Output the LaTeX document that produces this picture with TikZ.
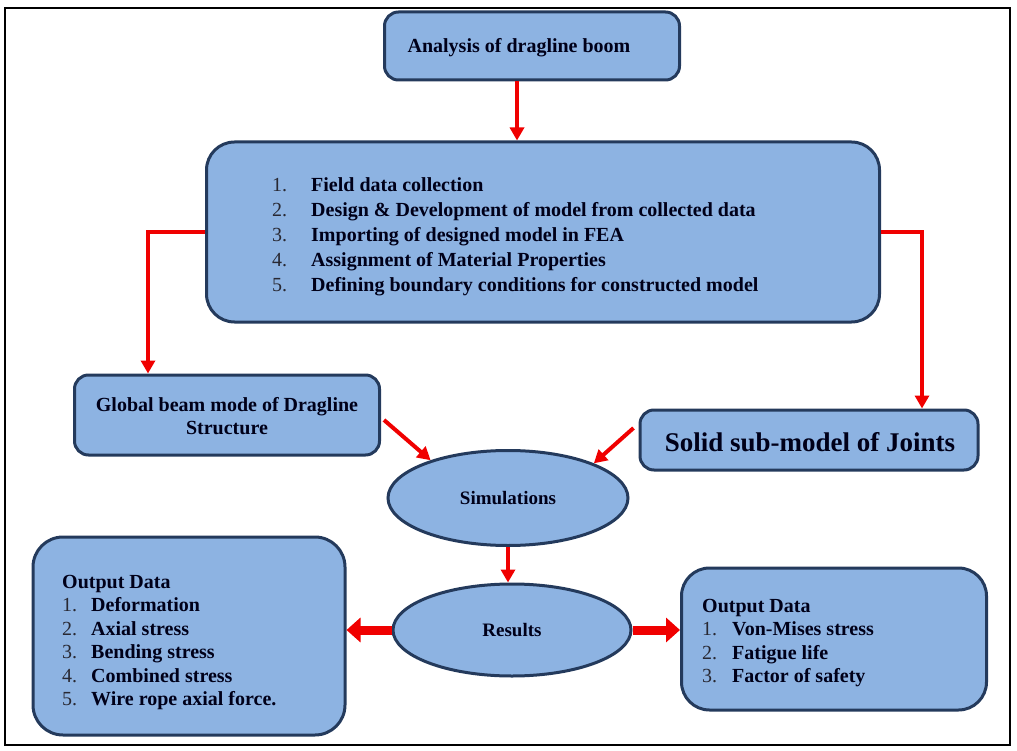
\documentclass[tikz,border=0pt]{standalone}
\usepackage{fontspec}
\setmainfont{Liberation Serif}
\usetikzlibrary{arrows.meta,shapes.geometric}
\definecolor{boxfill}{RGB}{141,179,226}
\definecolor{boxline}{RGB}{36,58,92}
\definecolor{arrred}{RGB}{240,0,0}
\definecolor{numgray}{RGB}{40,40,50}
\newcommand{\nm}[1]{{\mdseries\color{numgray}#1}}
\tikzset{
  box/.style={draw=boxline, fill=boxfill, line width=3pt, rounded corners=14pt, inner sep=0pt},
  oval/.style={ellipse, draw=boxline, fill=boxfill, line width=3pt, inner sep=0pt},
  arr/.style={draw=arrred, line width=4pt, -{Triangle[length=13pt,width=14pt]}},
  fatarr/.style={draw=arrred, line width=9pt, -{Triangle[length=14pt,width=24pt]}},
  txt/.style={font=\bfseries\fontsize{20}{23.5}\selectfont, text=black!90!blue, align=left, inner sep=0pt},
}
\begin{document}
\begin{tikzpicture}[x=1pt,y=-1pt]
\useasboundingbox (0,0) rectangle (1017,751);
\draw[line width=1.5pt] (5,8) rectangle (1010,745);

\node[box, minimum width=295pt, minimum height=68pt] (top) at (532,46) {};
\node[txt] (toptxt) at (519,48) {Analysis of dragline boom};

\node[box, rounded corners=28pt, minimum width=673pt, minimum height=180pt] (big) at (543,232) {};
\node[txt, anchor=base west, font=\bfseries\fontsize{20}{25}\selectfont] (bigtxt) at (272,192) {%
\begin{tabular}[t]{@{}l@{\hspace{24pt}}l@{}}
\nm{1.} & Field data collection\\
\nm{2.} & Design \& Development of model from collected data\\
\nm{3.} & Importing of designed model in FEA\\
\nm{4.} & Assignment of Material Properties\\
\nm{5.} & Defining boundary conditions for constructed model
\end{tabular}};

\node[box, minimum width=305pt, minimum height=80pt] (glob) at (227,415) {};
\node[txt, align=center, font=\bfseries\fontsize{20}{23}\selectfont] (globtxt) at (227,416) {Global beam mode of Dragline\\Structure};

\node[box, minimum width=338pt, minimum height=60pt] (solid) at (809,440) {};
\node[txt, font=\bfseries\fontsize{27}{30}\selectfont] (solidtxt) at (810,442) {Solid sub-model of Joints};

\node[oval, minimum width=240pt, minimum height=95pt] (sim) at (508,498) {};
\node[txt, font=\bfseries\fontsize{19}{22}\selectfont] (simtxt) at (sim) {Simulations};

\node[oval, minimum width=238pt, minimum height=92pt] (res) at (512,630) {};
\node[txt, font=\bfseries\fontsize{19}{22}\selectfont] (restxt) at (res) {Results};

\node[box, rounded corners=30pt, minimum width=312pt, minimum height=198pt] (lout) at (189,636) {};
\node[txt, anchor=base west] (louttxt) at (62,588) {%
\begin{tabular}[t]{@{}l@{\hspace{14pt}}l@{}}
\multicolumn{2}{@{}l}{Output Data}\\
\nm{1.} & Deformation\\
\nm{2.} & Axial stress\\
\nm{3.} & Bending stress\\
\nm{4.} & Combined stress\\
\nm{5.} & Wire rope axial force.
\end{tabular}};

\node[box, rounded corners=28pt, minimum width=305pt, minimum height=142pt] (rout) at (834,639) {};
\node[txt, anchor=base west] (routtxt) at (702,612) {%
\begin{tabular}[t]{@{}l@{\hspace{15pt}}l@{}}
\multicolumn{2}{@{}l}{Output Data}\\
\nm{1.} & Von-Mises stress\\
\nm{2.} & Fatigue life\\
\nm{3.} & Factor of safety
\end{tabular}};

\draw[arr] ([xshift=-15pt]top.south) -- ([xshift=-15pt]top.south |- big.north);
\draw[arr] (big.west) -| ([xshift=-79pt]glob.north);
\draw[arr] (big.east) -| ([xshift=113pt]solid.north);
\draw[arr] ([xshift=3pt,yshift=-5pt]glob.east) -- (sim.154);
\draw[arr] ([xshift=-5pt,yshift=12pt]solid.west) -- (sim.22);
\draw[arr] (sim.south) -- (sim.south |- res.north);
\draw[fatarr] (res.west) -- (res.west -| lout.east);
\draw[fatarr] (res.east) -- (res.east -| rout.west);
\end{tikzpicture}
\end{document}
